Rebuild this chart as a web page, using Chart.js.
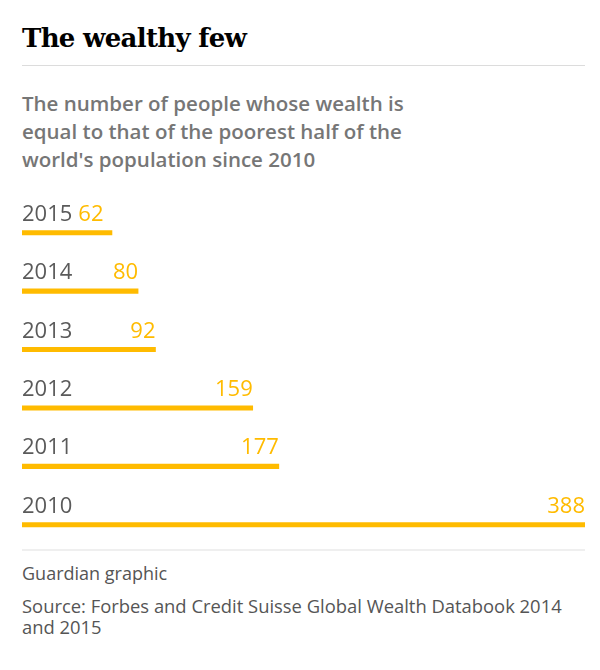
<!DOCTYPE html>
<html>
<head>
<meta charset="utf-8">
<script src="https://cdn.jsdelivr.net/npm/chart.js@4.4.1/dist/chart.umd.min.js"></script>
<style>
  body { margin: 0; background: #fff; width: 600px; height: 670px; position: relative; overflow: hidden; }
  #title { position: absolute; left: 22px; top: 23px; margin: 0; font-family: "DejaVu Serif", serif; font-weight: bold; font-size: 26px; color: #000; letter-spacing: -0.7px; }
  #rule1 { position: absolute; left: 22px; top: 65px; width: 563px; height: 1px; background: #dcdcdc; }
  #subtitle { position: absolute; left: 22px; top: 89px; margin: 0; font-family: "Open Sans", sans-serif; font-weight: 600; font-size: 20.5px; line-height: 28px; color: #767676; }
  #rule2 { position: absolute; left: 22px; top: 549px; width: 563px; height: 2px; background: #efefef; }
  #credit { position: absolute; left: 22px; top: 561px; font-family: "Open Sans", sans-serif; font-size: 18px; color: #555; }
  #source { position: absolute; left: 22px; top: 595px; width: 575px; font-family: "Open Sans", sans-serif; font-size: 18.4px; line-height: 21px; color: #555; }
  #chart { position: absolute; left: 0; top: 180px; }
</style>
</head>
<body>
<h1 id="title">The wealthy few</h1>
<div id="rule1"></div>
<p id="subtitle">The number of people whose wealth is<br>equal to that of the poorest half of the<br>world's population since 2010</p>
<canvas id="chart" width="600" height="380"></canvas>
<div id="rule2"></div>
<div id="credit">Guardian graphic</div>
<div id="source">Source: Forbes and Credit Suisse Global Wealth Databook 2014<br>and 2015</div>

<script>
var years = ["2015", "2014", "2013", "2012", "2011", "2010"];
var people = [62, 80, 92, 159, 177, 388];

var barColor = "#ffbb00";
var yearColor = "#5a5a5a";

// year on the left, value at the end of each bar
var barLabels = {
    id: "barLabels",
    afterDatasetsDraw: function(chart) {
        var ctx = chart.ctx;
        var left = chart.chartArea.left;
        var bars = chart.getDatasetMeta(0).data;
        ctx.save();
        ctx.font = "22px 'Open Sans', sans-serif";
        ctx.textBaseline = "alphabetic";
        bars.forEach(function(bar, i) {
            var base = bar.y - 12;
            ctx.fillStyle = yearColor;
            ctx.textAlign = "left";
            ctx.fillText(years[i], left, base);
            var yearEnd = left + ctx.measureText(years[i]).width;
            var txt = String(people[i]);
            var w = ctx.measureText(txt).width;
            ctx.fillStyle = barColor;
            if (bar.x - w < yearEnd + 20) {
                ctx.fillText(txt, yearEnd + 6, base);
            } else {
                ctx.textAlign = "right";
                ctx.fillText(txt, bar.x, base);
            }
        });
        ctx.restore();
    }
};

const ctx = document.getElementById("chart");
new Chart(ctx, {
    type: "bar",
    data: {
        labels: years,
        datasets: [{
            data: people,
            backgroundColor: barColor,
            barThickness: 4.5,
            borderSkipped: false
        }]
    },
    options: {
        indexAxis: "y",
        responsive: false,
        animation: false,
        events: [],
        layout: {
            padding: { left: 22, right: 15, top: 23.5, bottom: 6 }
        },
        scales: {
            x: { display: false, min: 0, max: 388 },
            y: { display: false }
        },
        plugins: {
            legend: { display: false },
            tooltip: { enabled: false }
        }
    },
    plugins: [barLabels]
});
</script>
</body>
</html>
